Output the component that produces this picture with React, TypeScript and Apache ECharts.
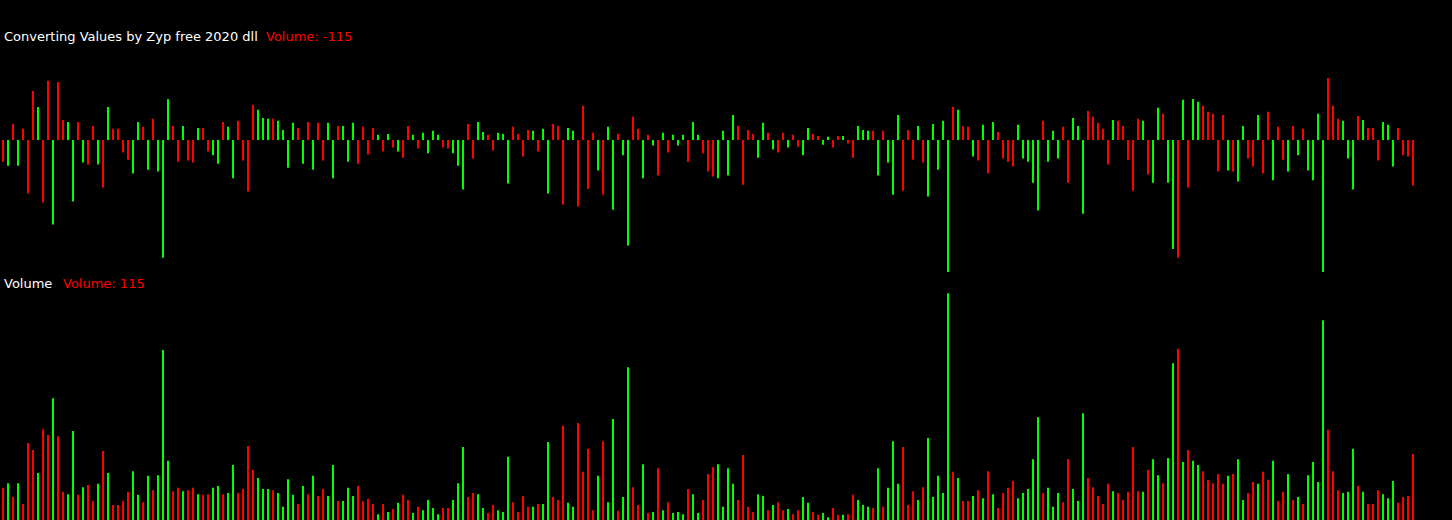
import { useEffect, useRef } from "react";
import * as echarts from "echarts";

// Signed "converted values" (upper panel), one per bar
const values: number[] = [
  -55, -65, 40, -65, 28, -135, 123, 83, -158, 149, -213, 146, 50, 45, -155, 45, -57, -62, 35, -62, -120, 83, 28, 28,
  -32, -50, -85, 45, 33, -75, 53, -80, -297, 103, 35, -55, 35, -52, -57, 30, 30, -29, -39, -60, 45, 33, -97, 48,
  -52, -130, 88, 76, 55, 53, 53, 48, 25, -70, 43, 30, -60, 45, -75, 43, -52, 43, -97, 35, 35, -55, 43,
  -60, 33, -37, 30, 13, -29, 15, -19, -29, -45, 35, 13, -22, 18, -34, 23, 13, -19, -22, -34, -65, -125, 40, -47,
  45, 20, 13, -27, 18, 15, -110, 33, 15, -42, 25, 23, -29, 28, -135, 40, 35, -163, 30, 23, -168, 86, -123, 18,
  -77, -138, 33, -176, 15, -39, -266, 58, 28, -97, 13, -14, -90, 18, -32, 13, -14, 13, -55, 45, 13, -34, -80, -92,
  -97, 23, -90, 63, 35, -113, 25, 15, -45, 43, 18, -24, -32, 18, -19, 13, -17, -39, 30, 15, 10, -12, 8, -19,
  10, 10, -9, -45, 35, 25, 23, 23, -90, 23, -57, -138, 63, -128, 25, -50, 35, -57, -143, 40, -75, 48, -395,
  83, 76, 35, 33, -42, -52, 38, -85, 45, 20, -47, -55, -67, 38, -47, -55, -108, -178, 48, -55, 23, -47, 33, -108,
  55, 35, -186, 73, 58, 43, 28, -62, 50, 48, 35, -50, -128, 53, 48, -87, -108, 81, 66, -108, -275, -297, 101, -120,
  103, 96, 86, 71, 66, -80, 63, -77, -80, -105, 35, -47, -67, 63, -85, 71, -102, 33, -50, -80, 35, -39, 28, -77,
  -102, 66, -348, 156, 86, 53, 48, -47, -125, 60, 50, 30, 30, -52, 45, 38, -67, 30, -39, -42, -115,
];

// Volume (lower panel), one per bar
const volumes: number[] = [
  56, 64, 40, 64, 28, 134, 122, 82, 158, 148, 212, 146, 49, 45, 155, 44, 57, 61, 33, 63, 120, 82, 26, 26,
  33, 49, 85, 44, 31, 77, 52, 78, 296, 103, 50, 56, 50, 52, 56, 45, 44, 45, 56, 59, 45, 47, 96, 47,
  54, 129, 87, 73, 54, 54, 52, 47, 23, 71, 44, 28, 59, 45, 77, 42, 54, 42, 96, 33, 33, 56, 42,
  59, 33, 37, 28, 10, 28, 14, 19, 30, 44, 35, 12, 23, 17, 35, 21, 10, 21, 21, 35, 64, 127, 40, 47,
  45, 21, 12, 26, 17, 14, 110, 31, 14, 42, 23, 23, 28, 28, 136, 40, 35, 164, 30, 23, 169, 84, 124, 17,
  77, 137, 31, 176, 16, 40, 266, 57, 26, 97, 12, 14, 90, 17, 31, 12, 14, 10, 54, 45, 12, 35, 80, 92,
  97, 23, 90, 63, 35, 113, 23, 14, 45, 42, 17, 26, 31, 17, 19, 10, 17, 40, 30, 14, 9, 12, 5, 21,
  9, 9, 10, 44, 35, 26, 23, 21, 90, 23, 56, 137, 63, 127, 26, 50, 35, 57, 143, 40, 77, 47, 395,
  84, 73, 33, 33, 42, 52, 38, 85, 45, 21, 47, 56, 68, 38, 47, 54, 106, 179, 47, 56, 23, 47, 31, 106,
  54, 33, 186, 73, 57, 42, 28, 63, 50, 47, 35, 49, 127, 50, 49, 87, 106, 78, 64, 108, 273, 298, 101, 122,
  103, 96, 85, 70, 64, 80, 63, 77, 80, 106, 35, 47, 66, 63, 84, 70, 103, 33, 49, 80, 35, 40, 28, 78,
  101, 66, 348, 157, 85, 52, 47, 49, 124, 59, 49, 28, 28, 52, 45, 38, 68, 30, 40, 42, 115,
];

// Bar colour per bar: g = lime, r = red
const barColorCodes: string[] = (
  "rgrgrrrgrrgrrggrgrrgrgrr" +
  "rrggrgrgggrrgrrgrrggrggr" +
  "rrrgggrggggrgrgrrggrggg" +
  "rrrrgrgrgrrgrggggrrgggrr" +
  "ggrrgggrrrrgrggrrrggrrrr" +
  "grggrggrrgrgrgrgggrggrrr" +
  "ggggrrrrggrgrrgrrggrrggr" +
  "rgrrgggrgrgggrrrgrggggg" +
  "rgrrgrgrgrrrrgggggrgggrr" +
  "gggrrrrrgrrrrrgrggrggrgr" +
  "ggrrrrrgrggrrgrrgrrgrgrg" +
  "gggrrrgggrgrrrgggrrrr"
).split("");

const categories: string[] = values.map((_, i) => String(i + 1));

const indicatorName = "Converting Values by Zyp free 2020 dll";
const volumeName = "Volume";

const GREEN = "#00FF00";
const RED = "#FF0000";
const FONT = '13px "DejaVu Sans"';

export default function App() {
  const ref = useRef<HTMLDivElement>(null);

  useEffect(() => {
    if (!ref.current) return;
    const chart = echarts.init(ref.current, null, { renderer: "svg" });
    const colorOf = (i: number) => (barColorCodes[i] === "g" ? GREEN : RED);
    const lastValue = values[values.length - 1];
    const lastVolume = volumes[volumes.length - 1];

    chart.setOption({
      animation: false,
      backgroundColor: "#000000",
      grid: [
        { left: 0.5, right: 36.5, top: 28, height: 244 },
        { left: 0.5, right: 36.5, top: 280, bottom: 0 },
      ],
      xAxis: [
        { type: "category", gridIndex: 0, data: categories, show: false, boundaryGap: true },
        { type: "category", gridIndex: 1, data: categories, show: false, boundaryGap: true },
      ],
      yAxis: [
        { type: "value", gridIndex: 0, min: -333, max: 282, show: false, splitLine: { show: false } },
        { type: "value", gridIndex: 1, min: 0, max: 418, show: false, splitLine: { show: false } },
      ],
      series: [
        {
          type: "bar",
          xAxisIndex: 0,
          yAxisIndex: 0,
          barWidth: 2,
          clip: true,
          data: values.map((v, i) => ({ value: v, itemStyle: { color: colorOf(i) } })),
        },
        {
          type: "bar",
          xAxisIndex: 1,
          yAxisIndex: 1,
          barWidth: 2,
          clip: true,
          data: volumes.map((v, i) => ({ value: v, itemStyle: { color: colorOf(i) } })),
        },
      ],
      graphic: [
        {
          type: "text",
          x: 4,
          y: 36,
          style: { text: indicatorName, fill: "#FFFFFF", font: FONT, verticalAlign: "middle" },
        },
        {
          type: "text",
          x: 266,
          y: 36,
          style: { text: `Volume: ${lastValue}`, fill: RED, font: FONT, verticalAlign: "middle" },
        },
        {
          type: "text",
          x: 4,
          y: 283,
          style: { text: volumeName, fill: "#FFFFFF", font: FONT, verticalAlign: "middle" },
        },
        {
          type: "text",
          x: 63,
          y: 283,
          style: { text: `Volume: ${lastVolume}`, fill: RED, font: FONT, verticalAlign: "middle" },
        },
      ],
    });

    return () => chart.dispose();
  }, []);

  return (
    <div
      ref={ref}
      style={{ position: "fixed", left: 0, top: 0, width: 1452, height: 520, background: "#000000" }}
    />
  );
}
